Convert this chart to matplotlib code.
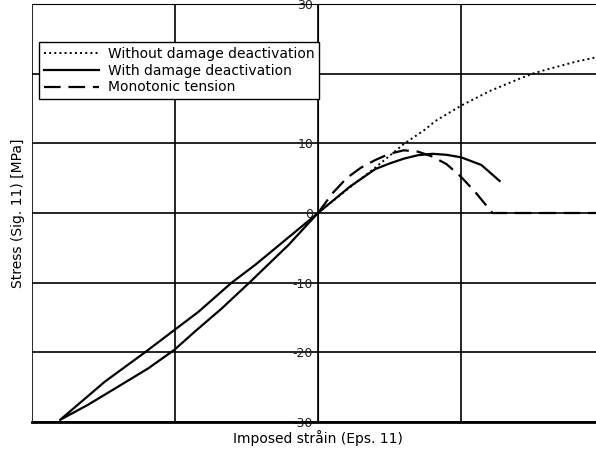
import matplotlib

matplotlib.use("Agg")
import matplotlib.pyplot as plt

# Without damage deactivation (tension branch)
eps_free = [0.0, 0.2, 0.4, 0.6, 0.75, 0.82, 1.0, 1.2, 1.4, 1.5, 1.6, 1.8, 2.0]
sig_free = [0.0, 3.3, 6.5, 9.9, 12.0, 13.2, 15.4, 17.5, 19.2, 20.0, 20.6, 21.7, 22.6]

# With damage deactivation: compression loop (loading, unloading) then tension branch
eps_deact = [0.0, -0.207, -0.48, -0.673, -0.86, -1.005, -1.187, -1.396, -1.606, -1.804,
             -1.49, -1.21, -0.998, -0.837, -0.604, -0.44, 0.0,
             0.224, 0.4, 0.5, 0.6, 0.7, 0.8, 0.9, 1.0, 1.142, 1.27]
sig_deact = [0.0, -4.6, -10.0, -13.7, -17.0, -19.65, -22.3, -24.9, -27.5, -29.7,
             -24.2, -20.0, -16.7, -14.2, -10.0, -7.46, 0.0,
             3.8, 6.3, 7.1, 7.8, 8.3, 8.5, 8.35, 8.0, 6.9, 4.6]

# Monotonic tension
eps_mono = [0.0, 0.1, 0.2, 0.3, 0.4, 0.5, 0.6, 0.7, 0.8, 0.9, 1.0, 1.1, 1.2, 1.22, 2.0]
sig_mono = [0.0, 2.8, 5.0, 6.5, 7.6, 8.5, 9.0, 8.8, 8.1, 7.0, 5.2, 3.0, 0.5, 0.0, 0.0]

yticks = [-30, -20, -10, 0, 10, 20, 30]
xticks = [-2, -1, 0, 1, 2]

fig = plt.figure(figsize=(5.96, 4.53), dpi=100)
ax = fig.add_axes([32 / 596, 31 / 453, 572 / 596, 418 / 453])

ax.plot(eps_free, sig_free, color="k", linestyle=":", linewidth=1.4,
        label="Without damage deactivation")
ax.plot(eps_deact, sig_deact, color="k", linestyle="-", linewidth=1.6,
        solid_joinstyle="round", label="With damage deactivation")
ax.plot(eps_mono, sig_mono, color="k", linestyle=(0, (7.5, 3.5)), linewidth=1.6,
        label="Monotonic tension")

ax.set_xlim(-2, 2)
ax.set_ylim(-30, 30)
ax.set_xticks(xticks)
ax.set_yticks(yticks)
ax.set_xticklabels([])
ax.set_yticklabels([str(v) for v in yticks])
ax.grid(True, color="k", linewidth=1.2)
ax.set_axisbelow(True)

# y axis through x = 0
ax.spines["left"].set_position(("data", 0))
ax.spines["right"].set_visible(False)
ax.spines["bottom"].set_linewidth(2)
ax.tick_params(length=0, labelsize=9, pad=3.5, colors="#222222")

ax.set_xlabel("Imposed stråin (Eps. 11)", fontsize=10, labelpad=2)
fig.text(18 / 596, 1 - 213 / 453, "Stress (Sig. 11) [MPa]", rotation=90,
         ha="center", va="center", fontsize=10)

leg = ax.legend(loc="upper left", bbox_to_anchor=(0.012, 0.909),
                borderaxespad=0, fancybox=False, framealpha=1,
                edgecolor="k", fontsize=10, handlelength=4.0,
                labelspacing=0.2, borderpad=0.35, handletextpad=0.6)
leg.get_frame().set_linewidth(1.0)

plt.savefig("out.png", dpi=100)
